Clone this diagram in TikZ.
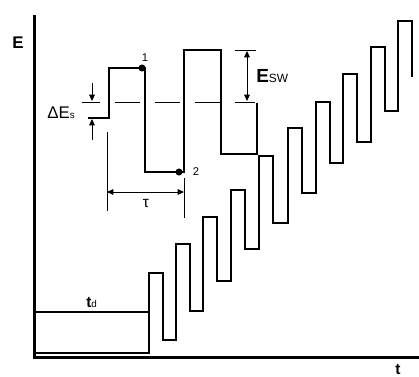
\documentclass[tikz,border=0pt]{standalone}
\usepackage{fontspec}
\setmainfont{Liberation Sans}
\usetikzlibrary{arrows.meta,positioning}

\begin{document}
\begin{tikzpicture}[x=0.025cm,y=-0.025cm,
    wave/.style={line width=1.4pt},
    axis/.style={line width=2.4pt},
    guide/.style={line width=0.6pt},
    dim/.style={guide,{Triangle[length=4.5pt,width=4pt]}-{Triangle[length=4.5pt,width=4pt]}},
    tip/.style={guide,-{Triangle[length=4.5pt,width=4pt]}},
    dot/.style={circle,fill,inner sep=0pt,minimum size=5pt},
    lbl/.style={inner sep=0pt}]
  \useasboundingbox (0,0) rectangle (419,376);

  % Axes
  \draw[axis] (34.5,15) -- (34.5,357.5) -- (419,357.5);
  \node[lbl] (E) at (18,43) {\fontsize{12}{14}\selectfont\bfseries E};
  \node[lbl,anchor=base] (t) at (398,374) {\fontsize{11}{13}\selectfont\bfseries t};

  % Inset: single switching pulses
  \draw[wave] (88,118) -| (109,68) -| (145,172) -| (184,50) -| (221,154) -| (257,103);
  \node[dot] (p1) at (142,68) {};
  \node[dot] (p2) at (179,172) {};
  \node[lbl] (n1) at (145,58) {\fontsize{8}{9}\selectfont 1};
  \node[lbl] (n2) at (196,172) {\fontsize{8}{9}\selectfont 2};
  \draw[guide,dash pattern=on 17.8pt off 10.7pt,dash phase=5pt] (82,102) -- (255,102);

  % Delta E_s
  \coordinate (dsTop) at (92,83);
  \coordinate (dsBot) at (92,140);
  \draw[tip] (dsTop) -- (92,101);
  \draw[tip] (dsBot) -- (92,119);
  \node[lbl,anchor=base west] (dEs) at (47,118)
    {\fontsize{12}{14}\selectfont ΔE{\fontsize{7}{8}\selectfont s}};

  % E_sw
  \draw[guide] (235,50) -- (256,50);
  \coordinate (swTop) at (247,51);
  \coordinate (swBot) at (247,101);
  \draw[dim] (swTop) -- (swBot);
  \node[lbl,anchor=base west] (Esw) at (256,82)
    {{\fontsize{13.5}{15}\selectfont\bfseries E}{\fontsize{8.5}{10}\selectfont SW}};

  % tau
  \draw[guide] (107,132) -- (107,211);
  \draw[guide] (184,178) -- (184,218);
  \coordinate (tauL) at (107,192);
  \coordinate (tauR) at (184,192);
  \draw[dim] (tauL) -- (tauR);
  \node[lbl] (tau) at (146,203) {\fontsize{11}{13}\selectfont τ};

  % Delay and switching train
  \draw[wave] (35,312) -- (149,312);
  \node[lbl,anchor=base west] (td) at (86,307)
    {{\fontsize{11}{13}\selectfont\bfseries t}{\fontsize{7}{8}\selectfont d}};
  \draw[wave] (35,353) -- (149,353)
    \foreach \x/\hi/\lo/\nx in {149/273/340/176, 176/244/311/203, 203/217/281/231,
      231/190/249/259, 259/156/223/288, 288/128/193/316, 316/102/163/343,
      343/74/142/371, 371/47/111/398, 398/21/77/412}
    { |- (\x+14,\hi) |- (\nx,\lo) };
\end{tikzpicture}
\end{document}
